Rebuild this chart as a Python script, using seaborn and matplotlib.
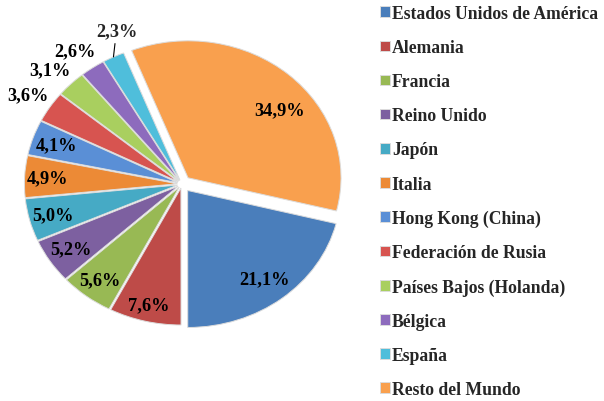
import numpy as np
import matplotlib
matplotlib.use("Agg")
import matplotlib.pyplot as plt
import seaborn as sns

sns.set_theme(style="white")
plt.rcParams['font.family'] = ['Liberation Serif', 'DejaVu Serif']
plt.rcParams['font.weight'] = 'bold'

# datos
paises = ["Estados Unidos de América", "Alemania", "Francia", "Reino Unido",
          "Japón", "Italia", "Hong Kong (China)", "Federación de Rusia",
          "Países Bajos (Holanda)", "Bélgica", "España", "Resto del Mundo"]
porcentajes = [21.1, 7.6, 5.6, 5.2, 5.0, 4.9, 4.1, 3.6, 3.1, 2.6, 2.3, 34.9]
etiquetas = ["21,1%", "7,6%", "5,6%", "5,2%", "5,0%", "4,9%", "4,1%",
             "3,6%", "3,1%", "2,6%", "2,3%", "34,9%"]

colores = sns.color_palette(["#4a7ebb", "#be4b48", "#98b954", "#7d60a0",
                             "#46aac5", "#ec8a36", "#5a8fd6", "#d75450",
                             "#a9cf5f", "#8d6bbd", "#4fbedb", "#f9a04e"])
explode = [0.06, 0.03, 0.03, 0.03, 0.03, 0.03, 0.03, 0.03, 0.03, 0.03, 0.03, 0.06]
# distancia y giro de la etiqueta respecto al centro de cada porción
dist_etiqueta = [0.82, 0.88, 0.85, 0.84, 0.84, 0.85, 0.84,
                 1.17, 1.17, 1.17, 1.17, 0.78]
giro_etiqueta = [0, 0, 0, 0, 0, 0, 0, 0, 1, 1, -5, -9]

W, H = 604, 402
fig = plt.figure(figsize=(W / 100, H / 100), dpi=100)
ax = fig.add_axes([0, 0, 366 / W, 1])

wedges, _ = ax.pie(porcentajes, colors=colores, startangle=-14,
                   counterclock=False, explode=explode,
                   wedgeprops=dict(edgecolor="#dcdcdc", linewidth=0.7))
ax.set_aspect('auto')
rx, ry = 153, 137
cx0, cy0 = 182, 185
ax.set_xlim(-cx0 / rx, (366 - cx0) / rx)
ax.set_ylim(-(H - cy0) / ry, cy0 / ry)
ax.axis("off")

for w, lab, d, g in zip(wedges, etiquetas, dist_etiqueta, giro_etiqueta):
    ang = np.deg2rad((w.theta1 + w.theta2) / 2 + g)
    cx, cy = w.center
    x, y = cx + d * np.cos(ang), cy + d * np.sin(ang)
    if lab == "2,3%":
        a0 = np.deg2rad((w.theta1 + w.theta2) / 2)
        ex, ey = cx + np.cos(a0), cy + np.sin(a0)
        ax.annotate(lab, xy=(ex, ey), xytext=(x, y),
                    ha="center", va="center", fontsize=13.2, fontweight="bold",
                    arrowprops=dict(arrowstyle="-", color="black", lw=0.8,
                                    shrinkA=1, shrinkB=0))
    else:
        ax.text(x, y, lab, ha="center", va="center", fontsize=13.2,
                fontweight="bold", color="black")

fig.legend(wedges, paises, loc="upper left",
           bbox_to_anchor=(380 / W, 1 - 6 / H), frameon=False,
           fontsize=12.7, labelspacing=0.97, handlelength=0.55,
           handleheight=0.55, handletextpad=0.12, borderpad=0,
           borderaxespad=0)

fig.savefig("out.png", dpi=100)
